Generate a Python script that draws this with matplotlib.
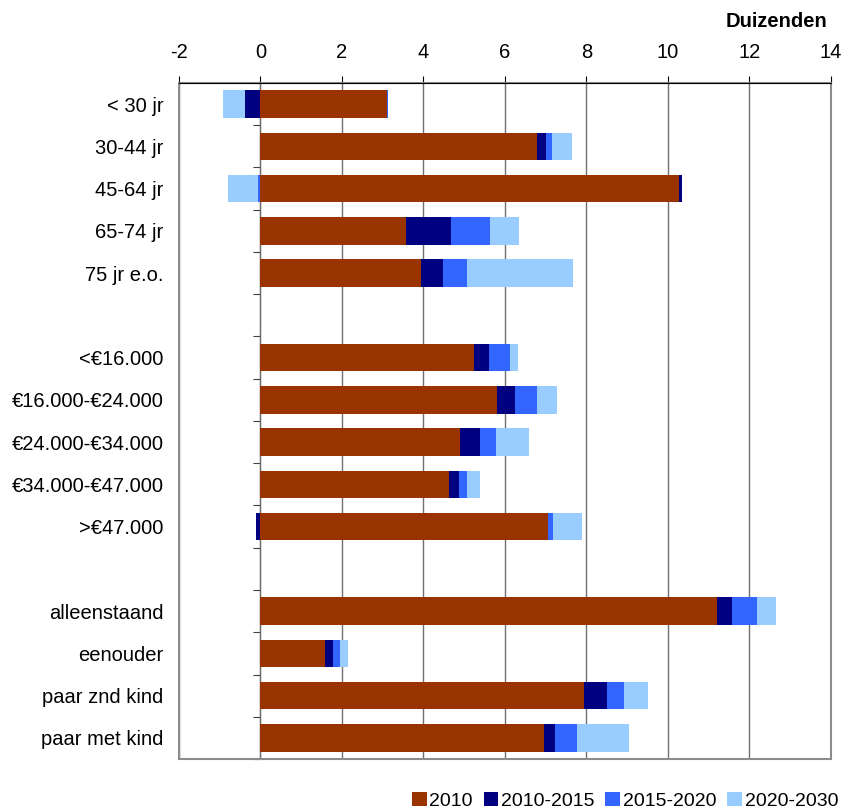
import matplotlib.pyplot as plt
from matplotlib.patches import Rectangle
import numpy as np

plt.rcParams["font.family"] = ["Liberation Sans", "DejaVu Sans"]
plt.rcParams["axes.unicode_minus"] = False

# categorieen (lege rijen als scheiding tussen de groepen)
categories = [
    "< 30 jr", "30-44 jr", "45-64 jr", "65-74 jr", "75 jr e.o.", "",
    "<€16.000", "€16.000-€24.000", "€24.000-€34.000", "€34.000-€47.000", ">€47.000", "",
    "alleenstaand", "eenouder", "paar znd kind", "paar met kind",
]
nan = np.nan
v2010 = [3.10, 6.78, 10.27, 3.57, 3.93, nan, 5.23, 5.80, 4.89, 4.64, 7.07, nan, 11.20, 1.58, 7.95, 6.95]
v2010_2015 = [-0.37, 0.22, 0.07, 1.10, 0.54, nan, 0.39, 0.44, 0.51, 0.24, -0.11, nan, 0.37, 0.20, 0.56, 0.29]
v2015_2020 = [0.04, 0.15, -0.06, 0.955, 0.61, nan, 0.51, 0.54, 0.39, 0.20, 0.10, nan, 0.61, 0.17, 0.42, 0.54]
v2020_2030 = [-0.56, 0.49, -0.73, 0.71, 2.60, nan, 0.20, 0.51, 0.81, 0.32, 0.73, nan, 0.48, 0.20, 0.59, 1.27]

series = [
    ("2010", v2010, "#993300"),
    ("2010-2015", v2010_2015, "#000080"),
    ("2015-2020", v2015_2020, "#3366FF"),
    ("2020-2030", v2020_2030, "#99CCFF"),
]

x_min, x_max = -2, 14
fs = 14.5

fig = plt.figure(figsize=(8.53, 8.11), dpi=100)
ax = fig.add_axes([0.2098, 0.0641, 0.7642, 0.8336])

y = np.arange(len(categories))
pos_cum = np.zeros(len(categories))
neg_cum = np.zeros(len(categories))
for name, vals, color in series:
    v = np.nan_to_num(np.array(vals, dtype=float))
    left = np.where(v >= 0, pos_cum, neg_cum)
    ax.barh(y, v, left=left, height=0.65, color=color, label=name, zorder=3)
    pos_cum += np.where(v >= 0, v, 0)
    neg_cum += np.where(v < 0, v, 0)

ax.set_xlim(x_min, x_max)
ax.set_ylim(len(categories) - 0.5, -0.5)
ax.set_xticks(np.arange(x_min, x_max + 1, 2))
ax.xaxis.tick_top()
ax.tick_params(axis="x", direction="out", length=5, pad=10, labelsize=fs, color="black")
ax.set_yticks(y)
ax.set_yticklabels(categories)
ax.tick_params(axis="y", length=0, pad=11, labelsize=fs)

ax.set_axisbelow(True)
ax.grid(axis="x", color="#707070", linewidth=1, zorder=0)

for s in ["left", "right", "bottom"]:
    ax.spines[s].set_visible(False)
ax.spines["top"].set_color("black")
ax.add_patch(Rectangle((0, 0), 1, 1, transform=ax.transAxes, fill=False,
                       edgecolor="#8c8c8c", linewidth=1.5, zorder=1, clip_on=False))

# categorie-as bij x = 0 met streepjes tussen de rijen
zero_frac = (0 - x_min) / (x_max - x_min)
sec = ax.secondary_yaxis(zero_frac)
sec.set_yticks(np.arange(-0.5, len(categories), 1.0))
sec.set_yticklabels([])
sec.tick_params(length=5, color="#404040")
sec.spines["left"].set_color("black")
sec.spines["left"].set_zorder(4)

fig.text(0.9695, 0.973, "Duizenden", ha="right", va="center",
         fontsize=fs, fontweight="bold")

handles, labels = ax.get_legend_handles_labels()
fig.legend(handles, labels, loc="lower right", bbox_to_anchor=(1.003, -0.02), ncol=4,
           frameon=False, fontsize=14, handlelength=0.75, handleheight=0.75,
           handletextpad=0.15, columnspacing=0.55)

fig.savefig("out.png", dpi=100)
